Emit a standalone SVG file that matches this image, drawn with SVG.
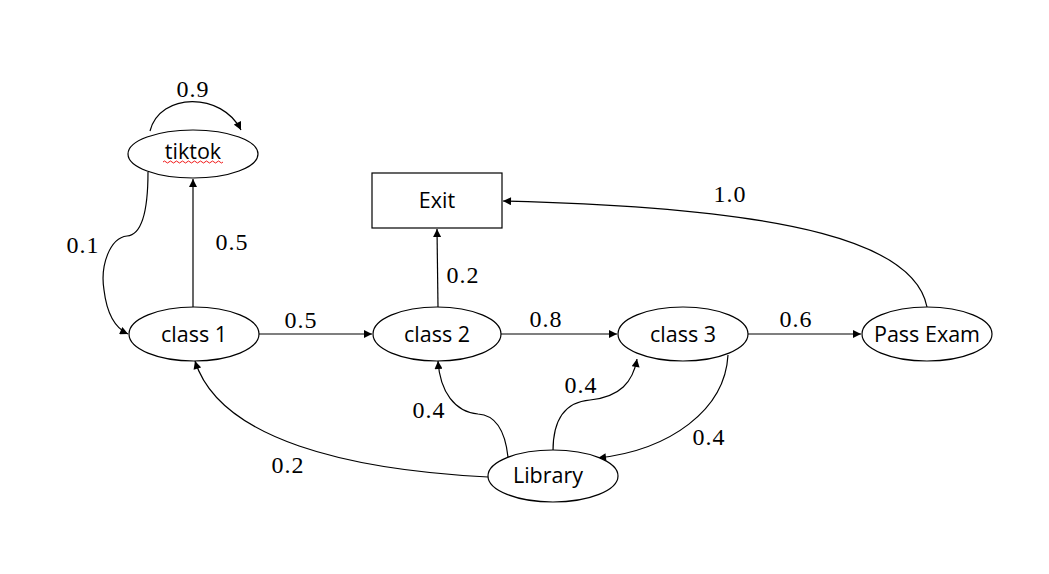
<svg xmlns="http://www.w3.org/2000/svg" width="1049" height="574" viewBox="0 0 1049 574">
<defs>
<marker id="arr" viewBox="0 0 10 10" refX="10" refY="5" markerWidth="9" markerHeight="8" markerUnits="userSpaceOnUse" orient="auto">
<path d="M0,0 L10,5 L0,10 z" fill="#000"/>
</marker>
</defs>
<style>
.node{fill:#fff;stroke:#000;stroke-width:1.2}
.nt{font-family:"Open Sans","Noto Sans",sans-serif;font-size:21.5px;fill:#000;text-anchor:middle}
.edge{fill:none;stroke:#000;stroke-width:1.2;marker-end:url(#arr)}
.lbl{font-family:"Liberation Serif","Times New Roman",serif;font-size:24px;letter-spacing:1px;fill:#000;text-anchor:middle}
</style>
<rect width="1049" height="574" fill="#fff"/>
<g id="connectors">
<path class="edge" d="M150,131 C160,92 222,92 241,130"/>
<path class="edge" d="M148,172 C148,215 140,235 127,236 C110,238 100,265 104,290 C107,315 115,328 128,334"/>
<path class="edge" d="M193,307 L193,179"/>
<path class="edge" d="M259,334 L372,334"/>
<path class="edge" d="M438,307 L437,229"/>
<path class="edge" d="M501,334 L617,334"/>
<path class="edge" d="M748,334 L861,334"/>
<path class="edge" d="M927,307 C915,245 800,208 503,201"/>
<path class="edge" d="M728,355 C725,410 670,450 598,458"/>
<path class="edge" d="M553,451 C553,420 565,402 590,400 C620,397 633,382 637,359"/>
<path class="edge" d="M508,457 C505,430 495,415 478,414 C455,412 440,392 438,361"/>
<path class="edge" d="M488,477 C350,470 220,440 195,361"/>
</g>
<g id="labels">
<text class="lbl" x="193" y="97">0.9</text>
<text class="lbl" x="83" y="253">0.1</text>
<text class="lbl" x="232" y="250">0.5</text>
<text class="lbl" x="301" y="328">0.5</text>
<text class="lbl" x="463" y="283">0.2</text>
<text class="lbl" x="546" y="327">0.8</text>
<text class="lbl" x="796" y="327">0.6</text>
<text class="lbl" x="730" y="202">1.0</text>
<text class="lbl" x="581" y="393">0.4</text>
<text class="lbl" x="709" y="445">0.4</text>
<text class="lbl" x="429" y="418">0.4</text>
<text class="lbl" x="288" y="473">0.2</text>
</g>
<g id="tiktok">
<ellipse class="node" cx="193" cy="154" rx="65" ry="24"/>
<text class="nt" x="193" y="159">tiktok</text>
<path d="M163,162 q1.5,-2 3,0 t3,0 t3,0 t3,0 t3,0 t3,0 t3,0 t3,0 t3,0 t3,0 t3,0 t3,0 t3,0 t3,0 t3,0 t3,0 t3,0 t3,0 t3,0 t3,0" fill="none" stroke="#e00" stroke-width="0.9"/>
</g>
<g id="class1">
<ellipse class="node" cx="194" cy="334" rx="65" ry="27"/>
<text class="nt" x="194" y="342">class 1</text>
</g>
<g id="exit">
<rect class="node" x="372" y="173" width="130" height="55"/>
<text class="nt" x="437" y="208">Exit</text>
</g>
<g id="class2">
<ellipse class="node" cx="437" cy="334" rx="64" ry="27"/>
<text class="nt" x="437" y="342">class 2</text>
</g>
<g id="class3">
<ellipse class="node" cx="683" cy="334" rx="65" ry="27"/>
<text class="nt" x="683" y="342">class 3</text>
</g>
<g id="passexam">
<ellipse class="node" cx="927" cy="334" rx="65" ry="27"/>
<text class="nt" x="927" y="342">Pass Exam</text>
</g>
<g id="library">
<ellipse class="node" cx="553" cy="476" rx="65" ry="26"/>
<text class="nt" x="548" y="483">Library</text>
</g>
</svg>
